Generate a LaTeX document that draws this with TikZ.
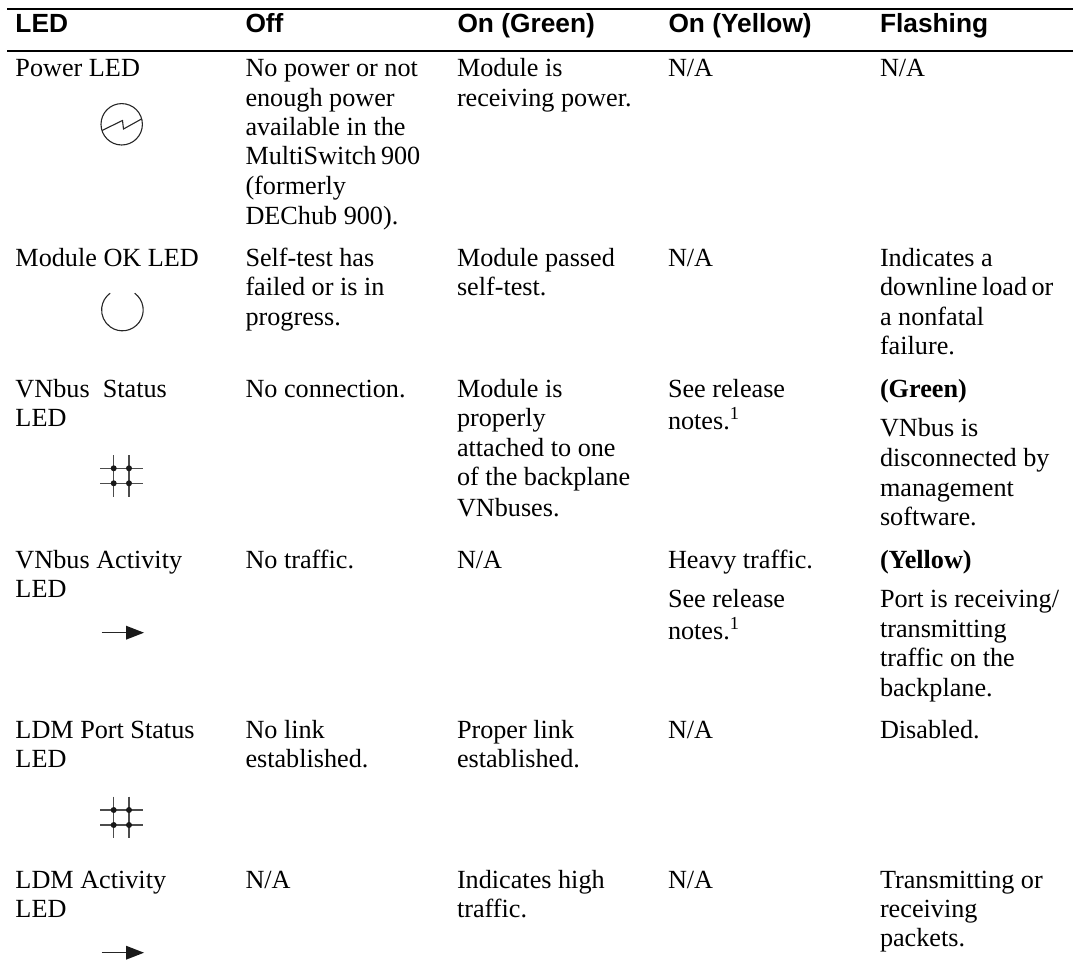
\documentclass[tikz,border=0pt]{standalone}
\usepackage{fontspec}
\setmainfont{Liberation Serif}
\newfontfamily\headfont{Liberation Sans}
\tikzset{
  txt/.style={anchor=base west,inner sep=0pt,outer sep=0pt,font=\fontsize{26.2}{29.3}\selectfont},
  head/.style={anchor=base west,inner sep=0pt,outer sep=0pt,font=\fontsize{26.3}{29.3}\headfont\bfseries},
  rulebar/.style={line width=2pt,black},
  icon/.style={line width=1.1pt,black!85},
  gridline/.style={line width=1.2pt,black!70},
  griddot/.style={circle,fill=black!90,inner sep=0pt,minimum size=6pt}
}
\newcommand{\tl}[4]{\node[txt] (#1) at (#2,#3) {#4};}
\newcommand{\gridicon}[2]{% x,y of upper-left crossing
  \draw[gridline] (#1,#2-13.3) -- (#1,#2+28.4);
  \draw[gridline] (#1+15.3,#2-13.3) -- (#1+15.3,#2+28.4);
  \draw[gridline] (#1-13.7,#2) -- (#1+29,#2);
  \draw[gridline] (#1-13.7,#2+15) -- (#1+29,#2+15);
  \foreach \dx in {0,15.3}\foreach \dy in {0,15}
    \node[griddot] at (#1+\dx,#2+\dy) {};
}
\newcommand{\arrowicon}[2]{% x of shaft start, y
  \draw[icon] (#1,#2) -- (#1+26,#2);
  \fill[black!90] (#1+24.5,#2-7) -- (#1+42.5,#2) -- (#1+24.5,#2+7) -- cycle;
}
\begin{document}
\begin{tikzpicture}[x=1pt,y=-1pt]
\useasboundingbox (0,0) rectangle (1073,960);
\draw[rulebar] (7,9) -- (1073,9);
\draw[rulebar] (7,50.7) -- (1073,50.7);
\node[head] (h1) at (15.5,33) {LED};
\node[head] (h2) at (245.5,33) {Off};
\node[head] (h3) at (457.5,33) {On (Green)};
\node[head] (h4) at (668.5,33) {On (Yellow)};
\node[head] (h5) at (880,33) {Flashing};
% col x: 15.5 245.5 457 668 880
\tl{a1}{15.5}{77}{Power LED}
\tl{b1}{245.5}{77}{No power or not}
\tl{b2}{245.5}{106.5}{enough power}
\tl{b3}{245.5}{136}{available in the}
\tl{b4}{245.5}{165}{MultiSwitch\kern4.5pt 900}
\tl{b5}{245.5}{194.5}{(formerly}
\tl{b6}{245.5}{224}{DEChub 900).}
\tl{c1}{457}{77}{Module is}
\tl{c2}{457}{106.5}{receiving power.}
\tl{d1}{668}{77}{N/A}
\tl{e1}{880}{77}{N/A}
% row 2
\tl{a2}{15.5}{266}{Module OK LED}
\tl{b7}{245.5}{266}{Self-test has}
\tl{b8}{245.5}{295.5}{failed or is in}
\tl{b9}{245.5}{325}{progress.}
\tl{c3}{457}{266}{Module passed}
\tl{c4}{457}{295.5}{self-test.}
\tl{d2}{668}{266}{N/A}
\tl{e2}{880}{266}{Indicates a}
\tl{e3}{880}{295.5}{downline\kern4.5pt load\kern4.5pt or}
\tl{e4}{880}{325}{a nonfatal}
\tl{e5}{880}{354}{failure.}
% row 3
\tl{a3}{15.5}{397}{VNbus\ \ Status}
\tl{a4}{15.5}{426.5}{LED}
\tl{b10}{245.5}{397}{No connection.}
\tl{c5}{457}{397}{Module is}
\tl{c6}{457}{426.5}{properly}
\tl{c7}{457}{456}{attached to one}
\tl{c8}{457}{485.5}{of the backplane}
\tl{c9}{457}{516}{VNbuses.}
\tl{d3}{668}{397}{See release}
\tl{d4}{668}{429}{notes.\textsuperscript{1}}
\node[txt,font=\fontsize{26.2}{29.3}\selectfont\bfseries] (e6) at (880,397) {(Green)};
\tl{e7}{880}{436.5}{VNbus is}
\tl{e8}{880}{466}{disconnected by}
\tl{e9}{880}{496}{management}
\tl{e10}{880}{525}{software.}
% row 4
\tl{a5}{15.5}{568}{VNbus Activity}
\tl{a6}{15.5}{597}{LED}
\tl{b11}{245.5}{568}{No traffic.}
\tl{c10}{457}{568}{N/A}
\tl{d5}{668}{568}{Heavy traffic.}
\tl{d6}{668}{607.5}{See release}
\tl{d7}{668}{639}{notes.\textsuperscript{1}}
\node[txt,font=\fontsize{26.2}{29.3}\selectfont\bfseries] (e11) at (880,568) {(Yellow)};
\tl{e12}{880}{607.5}{Port is receiving/}
\tl{e13}{880}{637}{transmitting}
\tl{e14}{880}{666.5}{traffic on the}
\tl{e15}{880}{696}{backplane.}
% row 5
\tl{a7}{15.5}{738}{LDM Port Status}
\tl{a8}{15.5}{767.5}{LED}
\tl{b12}{245.5}{738}{No link}
\tl{b13}{245.5}{767.5}{established.}
\tl{c11}{457}{738}{Proper link}
\tl{c12}{457}{767.5}{established.}
\tl{d8}{668}{738}{N/A}
\tl{e16}{880}{738}{Disabled.}
% row 6
\tl{a9}{15.5}{888}{LDM Activity}
\tl{a10}{15.5}{917}{LED}
\tl{b14}{245.5}{888}{N/A}
\tl{c13}{457}{888}{Indicates high}
\tl{c14}{457}{917}{traffic.}
\tl{d9}{668}{888}{N/A}
\tl{e17}{880}{888}{Transmitting or}
\tl{e18}{880}{917}{receiving}
\tl{e19}{880}{946.5}{packets.}
% icons
\draw[icon] (121.7,124.3) circle (20.7);
\draw[icon] (102,130.5) -- (122.5,120.5) -- (123.5,129) -- (141.5,119);
\draw[icon] (122.4,310) ++(-54:20.8) arc[start angle=-54,end angle=234,radius=20.8];
\gridicon{113.7}{468.3}
\arrowicon{101.5}{632.7}
\gridicon{113.7}{810}
\arrowicon{101.5}{952.7}
\end{tikzpicture}
\end{document}
